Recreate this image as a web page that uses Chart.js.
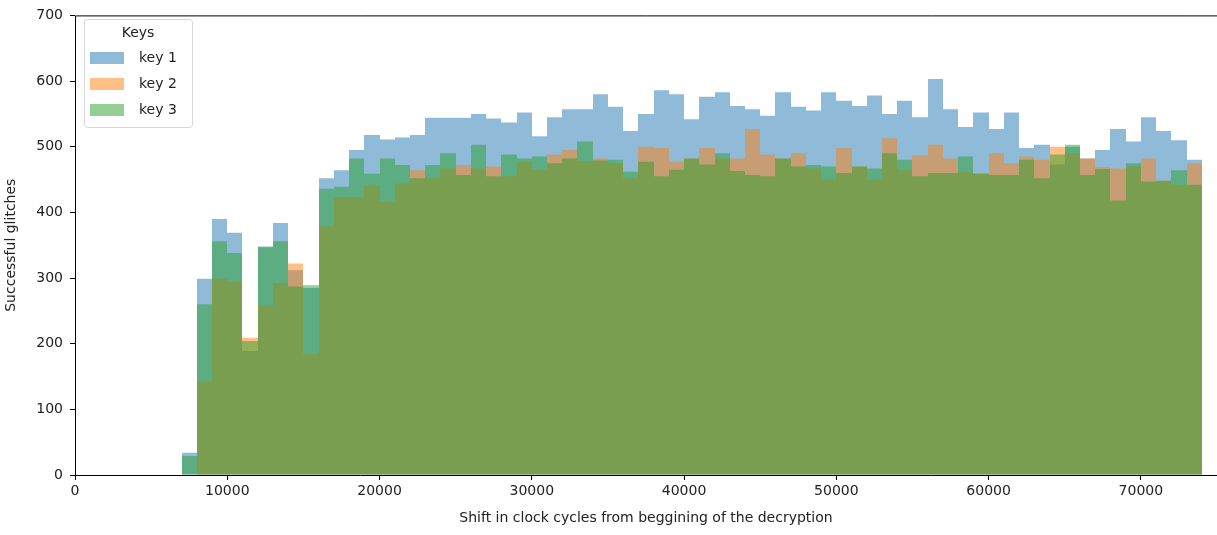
<!DOCTYPE html>
<html><head><meta charset="utf-8">
<script src="https://cdn.jsdelivr.net/npm/chart.js@4.4.0/dist/chart.umd.min.js"></script>
<style>html,body{margin:0;padding:0;background:#fff;overflow:hidden}#wrap{width:1217px;height:535px;position:relative}</style>
</head><body><div id="wrap"><canvas id="c" width="1217" height="535"></canvas></div>
<script>
// Bin centres (bins are 1000 clock cycles wide, 7000 .. 74000)
const binCenters = [7500,8500,9500,10500,11500,12500,13500,14500,15500,16500,17500,18500,19500,20500,21500,22500,23500,24500,25500,26500,27500,28500,29500,30500,31500,32500,33500,34500,35500,36500,37500,38500,39500,40500,41500,42500,43500,44500,45500,46500,47500,48500,49500,50500,51500,52500,53500,54500,55500,56500,57500,58500,59500,60500,61500,62500,63500,64500,65500,66500,67500,68500,69500,70500,71500,72500,73500];
const key1 = [34,299,390,369,189,348,384,312,285,452,464,495,518,511,514,518,544,544,544,550,543,537,552,516,545,557,557,580,561,524,550,586,580,542,576,583,562,557,547,583,561,555,583,570,562,578,550,570,545,603,557,530,552,527,552,498,503,473,500,482,495,527,508,545,524,510,480];
const key2 = [0,142,299,294,209,258,292,322,184,379,423,423,441,416,444,464,452,467,472,467,470,455,477,465,488,495,478,482,475,452,500,498,477,482,498,482,482,527,488,482,490,467,450,498,470,450,513,464,487,503,482,462,460,490,475,485,480,500,490,482,469,467,470,482,448,442,475];
const key3 = [29,260,356,338,204,347,356,287,289,436,439,482,459,482,472,452,472,490,457,503,455,488,482,485,475,482,508,479,480,462,477,455,465,482,473,490,463,457,455,482,470,472,470,460,470,467,490,480,455,460,460,485,459,457,457,480,452,488,503,457,466,418,475,447,448,464,442];
const xTickValues = [0,10000,20000,30000,40000,50000,60000,70000];
const yTickValues = [0,100,200,300,400,500,600,700];
const seriesLabels = ['key 1','key 2','key 3'];
const legendTitle = 'Keys';
const xTitle = 'Shift in clock cycles from beggining of the decryption';
const yTitle = 'Successful glitches';

const colors = ['rgba(31,119,180,0.5)','rgba(255,127,14,0.5)','rgba(44,160,44,0.5)'];
const toPts = vals => vals.map((v,i)=>({x:binCenters[i], y:v}));

Chart.defaults.font.family = '"DejaVu Sans", sans-serif';
Chart.defaults.font.size = 14;
Chart.defaults.color = '#222';

// snap bar side edges to whole pixels so adjacent bins join without seams
const snapBars = {
  id:'snapBars',
  beforeDatasetsDraw(chart){
    chart.getSortedVisibleDatasetMetas().forEach(meta => {
      meta.data.forEach(el => {
        const l = Math.round(el.x - el.width/2), r = Math.round(el.x + el.width/2);
        el.x = (l + r) / 2; el.width = r - l;
      });
    });
  }
};

const frame = {
  id:'frame',
  afterDatasetsDraw(chart){
    const {ctx, chartArea:a} = chart;
    ctx.save();
    ctx.strokeStyle='#000'; ctx.lineWidth=1;
    ctx.beginPath();
    ctx.moveTo(a.left+0.5, a.bottom+0.5); ctx.lineTo(a.left+0.5, a.top+0.5); ctx.lineTo(a.right, a.top+0.5);
    ctx.moveTo(a.left, a.bottom+0.5); ctx.lineTo(a.right, a.bottom+0.5);
    ctx.stroke();
    ctx.restore();
  },
  afterDraw(chart){
    const ctx = chart.ctx;
    ctx.save();
    const x=84.5,y=19.5,w=108,h=108,r=3;
    ctx.beginPath();
    ctx.moveTo(x+r,y); ctx.lineTo(x+w-r,y); ctx.arcTo(x+w,y,x+w,y+r,r);
    ctx.lineTo(x+w,y+h-r); ctx.arcTo(x+w,y+h,x+w-r,y+h,r);
    ctx.lineTo(x+r,y+h); ctx.arcTo(x,y+h,x,y+h-r,r);
    ctx.lineTo(x,y+r); ctx.arcTo(x,y,x+r,y,r); ctx.closePath();
    ctx.fillStyle='rgba(255,255,255,0.8)'; ctx.fill();
    ctx.strokeStyle='#d6d6d6'; ctx.lineWidth=1; ctx.stroke();
    ctx.font='14px "DejaVu Sans", sans-serif';
    ctx.fillStyle='#222'; ctx.textAlign='center'; ctx.textBaseline='middle';
    ctx.fillText(legendTitle, 138, 33);
    chart.data.datasets.forEach((ds,i)=>{
      const cy = 58 + 26*i;
      ctx.fillStyle = ds.backgroundColor;
      ctx.fillRect(90, cy-6, 34, 12);
      ctx.fillStyle='#222'; ctx.textAlign='left';
      ctx.fillText(ds.label, 139, cy);
    });
    ctx.restore();
  }
};

const mkDs = (label, vals, color, order) => ({
  label, data: toPts(vals), backgroundColor: color, borderWidth: 0, inflateAmount: 0,
  barPercentage: 1, categoryPercentage: 1, grouped: false, order
});

new Chart(document.getElementById('c'), {
  type: 'bar',
  data: { datasets: [
    mkDs(seriesLabels[0], key1, colors[0], 2),
    mkDs(seriesLabels[1], key2, colors[1], 1),
    mkDs(seriesLabels[2], key3, colors[2], 0)
  ]},
  options: {
    responsive: false, animation: false,
    layout: { padding: { top: 11, right: 0, left: 0, bottom: 0 } },
    plugins: { legend: { display: false }, tooltip: { enabled: false } },
    scales: {
      x: {
        type: 'linear', min: 0, max: 75000, offset: false,
        afterBuildTicks(s){ s.ticks = xTickValues.map(v => ({value: v})); },
        ticks: { padding: 3, maxRotation: 0, autoSkip: false, callback: v => String(v) },
        grid: { offset: false, drawOnChartArea: false, drawTicks: true, tickLength: 5, tickColor: '#000' },
        border: { display: false },
        title: { display: true, text: xTitle, padding: { top: 4, bottom: 8 } },
        afterFit(s){ s.height = 60; s.paddingRight = 0; }
      },
      y: {
        min: 0, max: 700,
        afterBuildTicks(s){ s.ticks = yTickValues.map(v => ({value: v})); },
        ticks: { padding: 7, callback: v => String(v) },
        grid: { drawOnChartArea: false, drawTicks: true, tickLength: 5, tickColor: '#000' },
        border: { display: false },
        title: { display: true, text: yTitle, padding: { top: 3, bottom: 0 } },
        afterFit(s){ s.width = 75; }
      }
    }
  },
  plugins: [snapBars, frame]
});
</script></body></html>
